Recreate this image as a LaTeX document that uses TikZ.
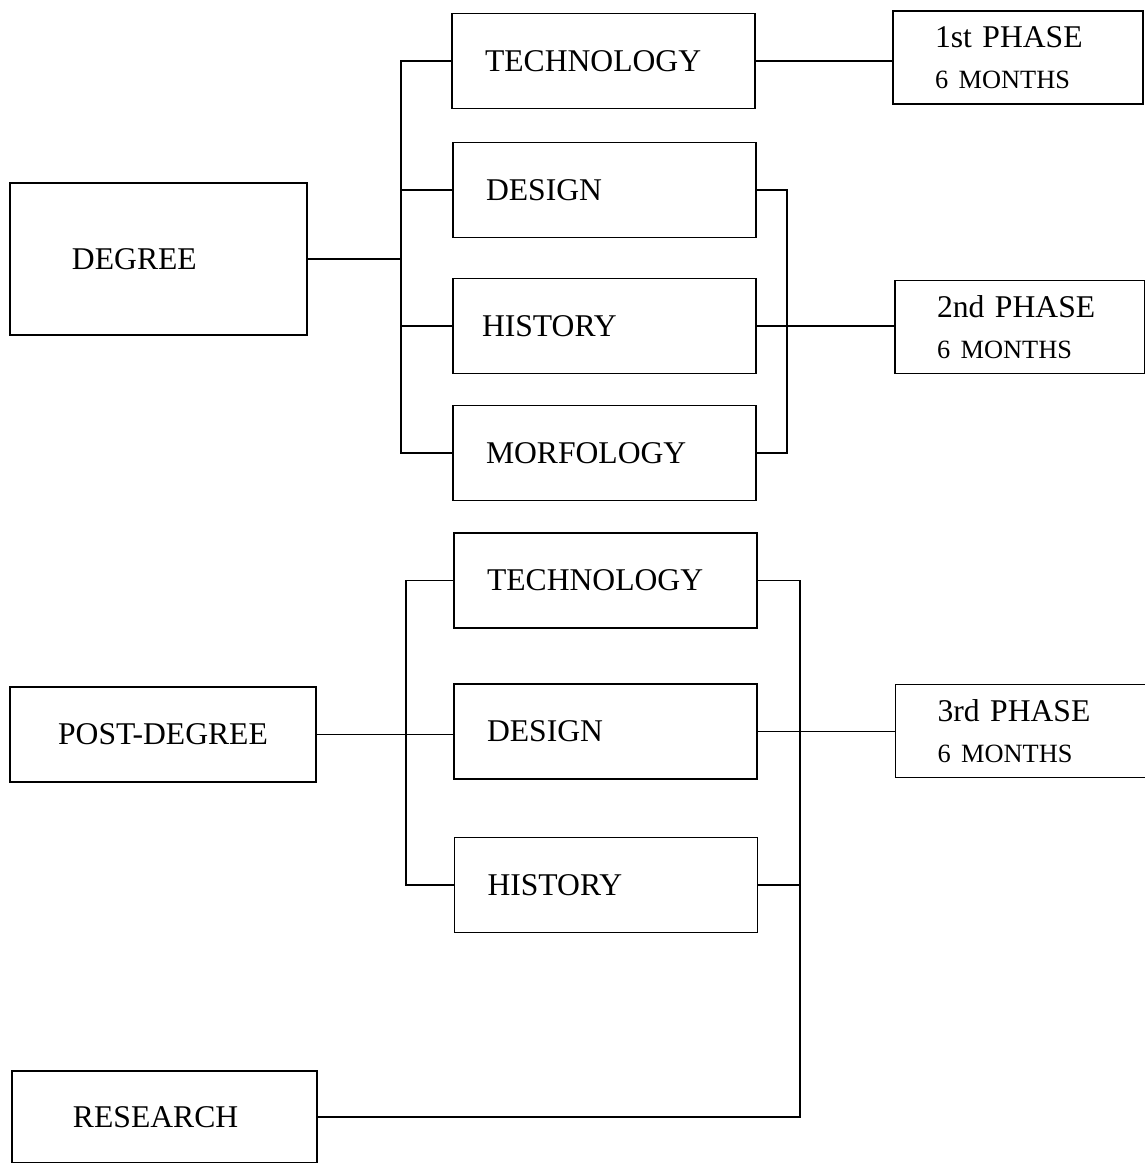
\documentclass[tikz,border=0pt]{standalone}
\usepackage{fontspec}
\setmainfont{Liberation Serif}
\usepackage{tikz}

\tikzset{
	box/.style={draw, line width=0.9pt, align=left, font=\fontsize{18}{22}\selectfont},
	sub/.style={box, text width=47.4mm, inner xsep=6.6mm, minimum height=19mm},
	phase/.style={box, text width=33.2mm, inner xsep=8.4mm, minimum height=18.6mm, font=\fontsize{18}{23}\selectfont},
	wire/.style={line width=0.7pt}
}
\newcommand{\months}{{\fontsize{15}{23}\selectfont 6 MONTHS}}

\begin{document}
\begin{tikzpicture}[x=0.2mm,y=-0.2mm]
	\useasboundingbox (0,0) rectangle (1145,1163);
	% left column
	\node[box, text width=34.6mm, inner xsep=12.4mm, minimum height=30.4mm] (degree) at (158.5,259) {DEGREE};
	\node[box, align=center, text width=55.2mm, inner xsep=3mm, minimum height=19mm] (post) at (163,734.5) {POST-DEGREE};
	\node[box, text width=36.6mm, inner xsep=12.2mm, minimum height=18.4mm] (research) at (164.5,1117) {RESEARCH};
	% subjects
	\node[sub] (tech1) at (603.5,61) {TECHNOLOGY};
	\node[sub] (des1) at (604.5,190) {DESIGN};
	\node[sub, inner xsep=5.8mm, text width=49mm] (hist1) at (604.5,326) {HISTORY};
	\node[sub] (morf) at (604.5,453) {MORFOLOGY};
	\node[sub] (tech2) at (605.5,580.5) {TECHNOLOGY};
	\node[sub] (des2) at (605.5,731.5) {DESIGN};
	\node[sub] (hist2) at (606,885) {HISTORY};
	% phases
	\node[phase] (ph1) at (1018,57.5) {1st PHASE\\\months};
	\node[phase] (ph2) at (1020,327) {2nd PHASE\\\months};
	\node[phase] (ph3) at (1020.5,731) {3rd PHASE\\\months};
	% junctions
	\coordinate (j1) at (401,259);
	\coordinate (j2) at (787,326);
	\coordinate (j3) at (406,734.5);
	\coordinate (j4) at (800,731.5);
	% degree
	\draw[wire, line width=1pt] (degree) -- (j1);
	\draw[wire] (tech1.west) -| (j1) |- (morf.west);
	\draw[wire] (j1 |- des1) -- (des1.west);
	\draw[wire] (j1 |- hist1) -- (hist1.west);
	\draw[wire] (tech1.east) -- (tech1.east -| ph1.west);
	\draw[wire] (des1.east) -| (j2) |- (morf.east);
	\draw[wire] (hist1.east) -- (hist1.east -| ph2.west);
	% post-degree
	\draw[wire] (post.east) -- (post.east -| des2.west);
	\draw[wire] (tech2.west) -| (j3) |- (hist2.west);
	\draw[wire] (tech2.east) -| (j4 |- research.east) -- (research.east);
	\draw[wire] (des2.east) -- (des2.east -| ph3.west);
	\draw[wire] (hist2.east) -- (hist2.east -| j4);
\end{tikzpicture}
\end{document}
